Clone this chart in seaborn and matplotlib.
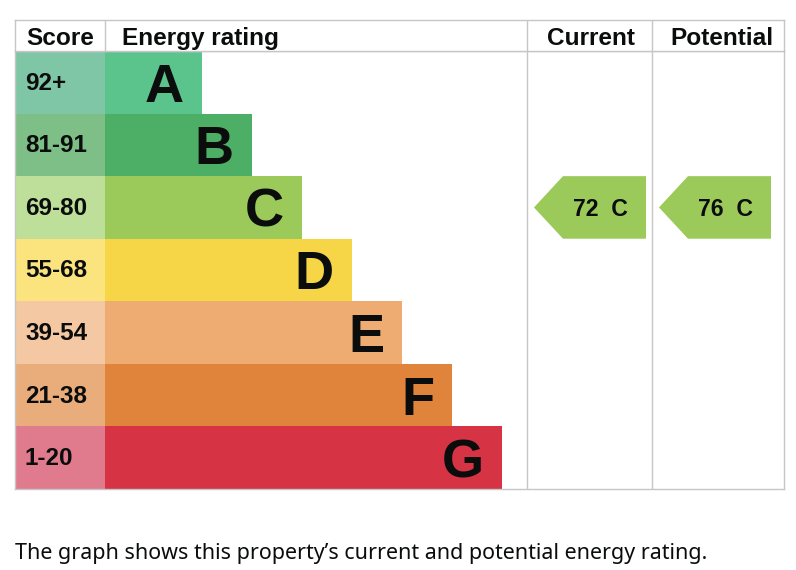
import matplotlib
matplotlib.use('Agg')
import matplotlib.pyplot as plt
import matplotlib.transforms as mtransforms
import seaborn as sns
import pandas as pd
from matplotlib.patches import Polygon

# ---- data ----
bands = ['A', 'B', 'C', 'D', 'E', 'F', 'G']
score_ranges = ['92+', '81-91', '69-80', '55-68', '39-54', '21-38', '1-20']
bar_lengths = [97, 147, 197, 247, 297, 347, 397]
band_colors = ['#5bc48d', '#4dae66', '#9bca5a', '#f6d546', '#eeac72', '#e0843b', '#d63445']
score_colors = ['#7fc6a6', '#7ebf87', '#bddf99', '#fbe47e', '#f4c8a2', '#e9ad7c', '#e07b8d']
current_score = 72
current_band = 'C'
potential_score = 76
potential_band = 'C'
headers = ['Score', 'Energy rating', 'Current', 'Potential']
caption = "The graph shows this property\u2019s current and potential energy rating."

# ---- layout (pixels) ----
W, H = 796, 570
L, R, T, HB, B = 15, 784, 20, 51, 489
score_w = 90
cur_x, pot_x = 527 - L, 652 - L
grid = '#c6c6c6'
ink = '#0b0c0c'
bold_font = 'Liberation Sans'
CAP = 0.716

sns.set_theme(style='white')
plt.rcParams['font.family'] = ['Liberation Sans', 'DejaVu Sans']

fig = plt.figure(figsize=(W / 100, H / 100), dpi=100)


def captext(axis, x, y, s, fs, ha='left', **kw):
    """Place text so that capital letters are vertically centred on y."""
    tr = mtransforms.offset_copy(axis.transData, fig=fig, x=0, y=-CAP * fs / 2, units='points')
    return axis.text(x, y, s, ha=ha, va='baseline', fontsize=fs, transform=tr, **kw)


# main rows axes
ax = fig.add_axes([L / W, 1 - B / H, (R - L) / W, (B - HB) / H])
df = pd.DataFrame({'band': bands, 'end': [score_w + l for l in bar_lengths],
                   'score': score_ranges})
sns.barplot(data=df, x='end', y='band', hue='band', palette=band_colors,
            width=1, saturation=1, legend=False, ax=ax, orient='h', linewidth=0)
sns.barplot(data=df.assign(sw=score_w), x='sw', y='band', hue='band', palette=score_colors,
            width=1, saturation=1, legend=False, ax=ax, orient='h', linewidth=0)
ax.set_xlim(0, R - L)
ax.set_ylim(len(bands) - 0.5, -0.5)
ax.set_xticks([]); ax.set_yticks([])
ax.set_xlabel(''); ax.set_ylabel('')
for s in ax.spines.values():
    s.set_visible(True); s.set_color(grid); s.set_linewidth(1)
ax.axvline(cur_x, color=grid, lw=1)
ax.axvline(pot_x, color=grid, lw=1)

for i, (b, e, sr) in enumerate(zip(bands, df['end'], score_ranges)):
    captext(ax, e - 18, i, b, 39, ha='right', fontweight='bold', color=ink, family=bold_font)
    captext(ax, 10, i - 0.02, sr, 17.5, ha='left', fontweight='bold', color=ink, family=bold_font)


# arrows
def arrow(col_x, score, band):
    i = bands.index(band)
    color = band_colors[i]
    tip = col_x + 7
    body = col_x + 36
    right = col_x + 119
    poly = Polygon([(tip, i), (body, i - 0.5), (right, i - 0.5), (right, i + 0.5), (body, i + 0.5)],
                   closed=True, facecolor=color, edgecolor='none')
    ax.add_patch(poly)
    captext(ax, tip + 66, i, f'{score}  {band}', 16.6, ha='center',
            fontweight='bold', color=ink, family=bold_font)


arrow(cur_x, current_score, current_band)
arrow(pot_x, potential_score, potential_band)

# header axes
hax = fig.add_axes([L / W, 1 - HB / H, (R - L) / W, (HB - T) / H])
hax.set_xlim(0, R - L); hax.set_ylim(0, 1)
hax.set_xticks([]); hax.set_yticks([])
for s in hax.spines.values():
    s.set_visible(True); s.set_color(grid); s.set_linewidth(1)
for xv in (score_w, cur_x, pot_x):
    hax.axvline(xv, color=grid, lw=1)
hy = 1 - (36.5 - T) / (HB - T)
hfs = 17.6
captext(hax, 11, hy, headers[0], hfs, ha='left', fontweight='bold', color=ink)
captext(hax, score_w + 17.5, hy, headers[1], hfs, ha='left', fontweight='bold', color=ink)
captext(hax, (cur_x + pot_x) / 2 + 1, hy, headers[2], hfs, ha='center', fontweight='bold', color=ink)
captext(hax, (pot_x + R - L) / 2 + 3.5, hy, headers[3], hfs, ha='center', fontweight='bold', color=ink)

fig.text(L / W, 1 - 559 / H, caption, ha='left', va='baseline', fontsize=15.45,
         family='Noto Sans', color=ink)

fig.savefig('out.png', dpi=100)
